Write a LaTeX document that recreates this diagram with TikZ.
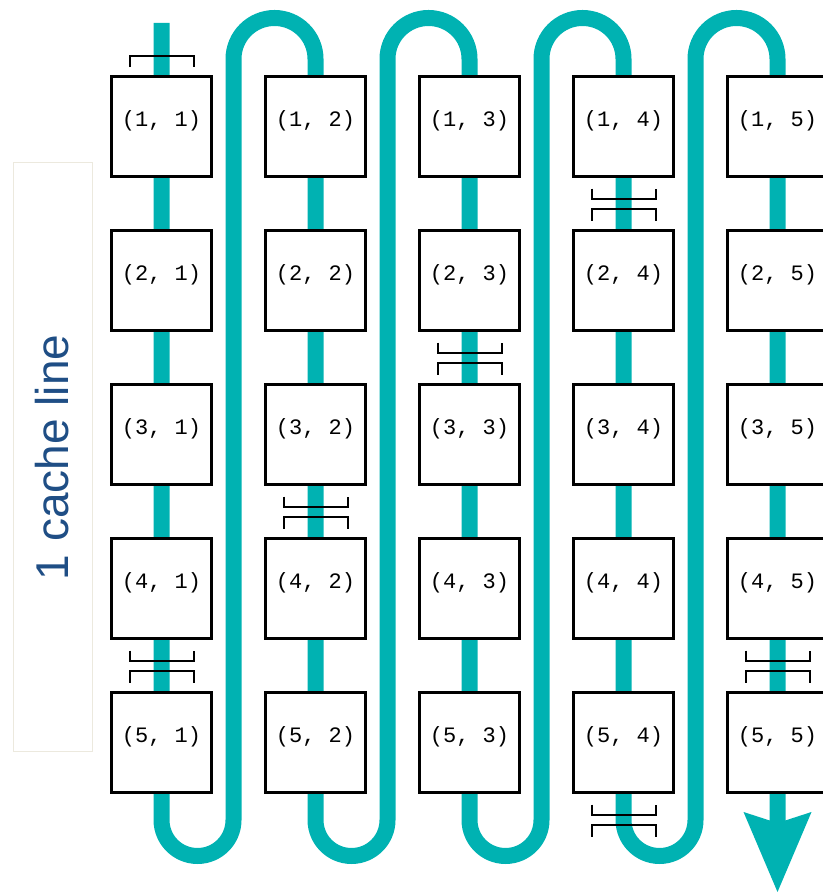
\documentclass[tikz,border=0pt]{standalone}
\usepackage{fontspec}
\setmainfont{Liberation Sans}
\setmonofont{Liberation Mono}
\usetikzlibrary{arrows.meta,backgrounds}
\definecolor{trailteal}{RGB}{0,178,178}
\definecolor{labelblue}{RGB}{31,78,133}
\definecolor{labelframe}{RGB}{236,233,222}
\tikzset{cell/.style={shape=rectangle, draw=black, fill=white, line width=2.5pt, minimum size=100pt, inner sep=0pt, text height=12pt, text depth=12pt, font=\ttfamily\fontsize{22}{24}\selectfont}}
\tikzset{trail/.style={draw=trailteal, line width=16pt}}
\tikzset{tick/.style={draw=black, line width=2pt}}
\tikzset{pics/cutmark/.style={code={
  \draw[tick] (-32,15) -- (-32,5) -- (32,5) -- (32,15);
  \draw[tick] (-32,-17) -- (-32,-5) -- (32,-5) -- (32,-17);
}}}

\begin{document}
\begin{tikzpicture}[x=1pt, y=1pt, node distance=154pt]
  \useasboundingbox (0,0) rectangle (822,893);

  \node[cell] (a11) at (161.5,766.5) {(1, 1)};
  \node[cell] (a21) [below of=a11] {(2, 1)};
  \node[cell] (a31) [below of=a21] {(3, 1)};
  \node[cell] (a41) [below of=a31] {(4, 1)};
  \node[cell] (a51) [below of=a41] {(5, 1)};

  \node[cell] (a12) [right of=a11] {(1, 2)};
  \node[cell] (a22) [right of=a21] {(2, 2)};
  \node[cell] (a32) [right of=a31] {(3, 2)};
  \node[cell] (a42) [right of=a41] {(4, 2)};
  \node[cell] (a52) [right of=a51] {(5, 2)};

  \node[cell] (a13) [right of=a12] {(1, 3)};
  \node[cell] (a23) [right of=a22] {(2, 3)};
  \node[cell] (a33) [right of=a32] {(3, 3)};
  \node[cell] (a43) [right of=a42] {(4, 3)};
  \node[cell] (a53) [right of=a52] {(5, 3)};

  \node[cell] (a14) [right of=a13] {(1, 4)};
  \node[cell] (a24) [right of=a23] {(2, 4)};
  \node[cell] (a34) [right of=a33] {(3, 4)};
  \node[cell] (a44) [right of=a43] {(4, 4)};
  \node[cell] (a54) [right of=a53] {(5, 4)};

  \node[cell] (a15) [right of=a14] {(1, 5)};
  \node[cell] (a25) [right of=a24] {(2, 5)};
  \node[cell] (a35) [right of=a34] {(3, 5)};
  \node[cell] (a45) [right of=a44] {(4, 5)};
  \node[cell] (a55) [right of=a54] {(5, 5)};

  \node (cline) [draw=labelframe, line width=1pt, rotate=90, minimum width=589pt, minimum height=79pt, text=labelblue, font=\fontsize{46}{50}\selectfont] at (52.5,435.5) {1 cache line};

  \coordinate (top) at (0,870);
  \coordinate (low) at (0,73);
  \coordinate (tip) at (0,1);

  % access order, column by column
  \begin{scope}[on background layer]
    \draw[trail, -{Stealth[length=80pt, width=68pt, inset=11pt, line width=0pt]}]
      (a11 |- top) -- (a51 |- low) arc[start angle=180, end angle=360, radius=36]
      -- ++(0,761) arc[start angle=180, end angle=0, radius=41]
      -- (a52 |- low) arc[start angle=180, end angle=360, radius=36]
      -- ++(0,761) arc[start angle=180, end angle=0, radius=41]
      -- (a53 |- low) arc[start angle=180, end angle=360, radius=36]
      -- ++(0,761) arc[start angle=180, end angle=0, radius=41]
      -- (a54 |- low) arc[start angle=180, end angle=360, radius=36]
      -- ++(0,761) arc[start angle=180, end angle=0, radius=41]
      -- (a55 |- tip);
  \end{scope}

  % cache line borders
  \draw[tick] ([shift={(-32,8)}]a11.north) -- ++(0,11) -- ++(64,0) -- ++(0,-11);
  \pic at ([yshift=-26pt]a41.south) {cutmark};
  \pic at ([yshift=-26pt]a32.south) {cutmark};
  \pic at ([yshift=-26pt]a23.south) {cutmark};
  \pic at ([yshift=-26pt]a14.south) {cutmark};
  \pic at ([yshift=-26pt]a54.south) {cutmark};
  \pic at ([yshift=-26pt]a45.south) {cutmark};
\end{tikzpicture}
\end{document}
